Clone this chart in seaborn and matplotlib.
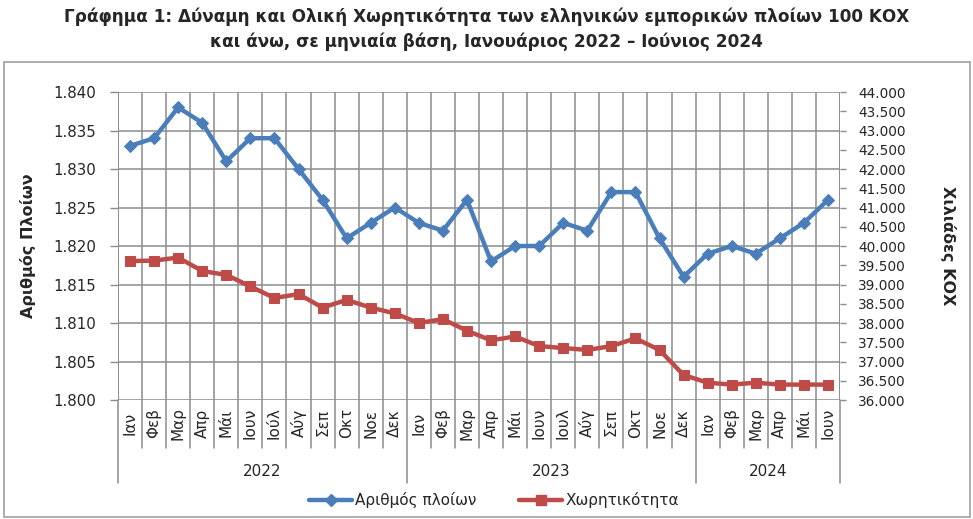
import numpy as np
import pandas as pd
import seaborn as sns
import matplotlib
matplotlib.use("Agg")
import matplotlib.pyplot as plt
import matplotlib.transforms as mtransforms
from matplotlib.lines import Line2D
from matplotlib.patches import Rectangle

months_2022 = ['Ιαν', 'Φεβ', 'Μαρ', 'Απρ', 'Μάι', 'Ιουν', 'Ιούλ', 'Αύγ', 'Σεπ', 'Οκτ', 'Νοε', 'Δεκ']
months_2023 = ['Ιαν', 'Φεβ', 'Μαρ', 'Απρ', 'Μάι', 'Ιουν', 'Ιουλ', 'Αύγ', 'Σεπ', 'Οκτ', 'Νοε', 'Δεκ']
months_2024 = ['Ιαν', 'Φεβ', 'Μαρ', 'Απρ', 'Μάι', 'Ιουν']
years = ['2022', '2023', '2024']

ships = [1.833, 1.834, 1.838, 1.836, 1.831, 1.834, 1.834, 1.830, 1.826, 1.821, 1.823, 1.825,
         1.823, 1.822, 1.826, 1.818, 1.820, 1.820, 1.823, 1.822, 1.827, 1.827, 1.821, 1.816,
         1.819, 1.820, 1.819, 1.821, 1.823, 1.826]
capacity = [39610, 39620, 39700, 39350, 39250, 38950, 38650, 38750, 38400, 38600, 38400, 38250,
            38000, 38100, 37800, 37550, 37650, 37400, 37350, 37300, 37400, 37600, 37300, 36650,
            36450, 36400, 36450, 36400, 36400, 36400]

left_ticks = [1.800, 1.805, 1.810, 1.815, 1.820, 1.825, 1.830, 1.835, 1.840]
right_ticks = list(range(36000, 44001, 500))

series_names = ['Αριθμός πλοίων', 'Χωρητικότητα']
title_lines = ['Γράφημα 1: Δύναμη και Ολική Χωρητικότητα των ελληνικών εμπορικών πλοίων 100 ΚΟΧ',
               'και άνω, σε μηνιαία βάση, Ιανουάριος 2022 – Ιούνιος 2024']

months = months_2022 + months_2023 + months_2024
n = len(months)
df = pd.DataFrame({'idx': np.arange(n), 'ships': ships, 'capacity': capacity})

sns.set_theme(style='white')
plt.rcParams['font.family'] = ['DejaVu Sans']

BLUE = '#4A7EBB'
RED = '#BE4B48'
GRID = '#8C8C8C'

W, H = 973, 519
fig = plt.figure(figsize=(W / 100, H / 100), dpi=100)
L, R, T, B = 118, 840, 92, 400
ax = fig.add_axes([L / W, 1 - B / H, (R - L) / W, (B - T) / H])
ax2 = ax.twinx()

# outer frame
fig.patches.append(Rectangle((4 / W, 2 / H), 966 / W, (517 - 62) / H, transform=fig.transFigure,
                             fill=False, edgecolor='#A0A0A0', linewidth=1.2))

fig.text(0.5, 1 - 17 / H, title_lines[0], ha='center', va='center', fontsize=12.2, fontweight='bold')
fig.text(0.5, 1 - 42 / H, title_lines[1], ha='center', va='center', fontsize=12.2, fontweight='bold')

sns.lineplot(data=df, x='idx', y='ships', ax=ax, color=BLUE, linewidth=3.2, marker='D',
             markersize=6, markeredgecolor=BLUE, zorder=5)
sns.lineplot(data=df, x='idx', y='capacity', ax=ax2, color=RED, linewidth=3.2, marker='s',
             markersize=7, markeredgecolor=RED, zorder=5)

ax.set_xlim(-0.5, n - 0.5)
ax.set_ylim(1.800, 1.840)
ax2.set_ylim(36000, 44000)
ax.set_yticks(left_ticks)
ax.set_yticklabels([f'{v:.3f}' for v in left_ticks], fontsize=10.8)
ax2.set_yticks(right_ticks)
ax2.set_yticklabels([f'{v/1000:.3f}' for v in right_ticks], fontsize=9.8)
ax.set_xticks([])
ax2.set_xticks([])
ax.set_xlabel('')
ax.set_ylabel('Αριθμός Πλοίων', fontsize=11.5, fontweight='bold')
ax2.set_ylabel('Χιλιάδες ΚΟΧ', fontsize=11.5, fontweight='bold', rotation=-90)
ax.yaxis.set_label_coords(-(L - 28) / (R - L), 0.5)
ax2.yaxis.set_label_coords(1 + (948 - R) / (R - L), 0.5)
ax.yaxis.label.set_va('center')
ax2.yaxis.label.set_va('center')

for a in (ax, ax2):
    for s in a.spines.values():
        s.set_visible(False)
ax.tick_params(axis='y', which='major', direction='out', length=6, color=GRID, width=1, pad=10, left=True)
ax2.tick_params(axis='y', which='major', direction='out', length=4, color=GRID, width=1, pad=9, right=True)

# grid
for v in left_ticks:
    ax.axhline(v, color=GRID, linewidth=1.1, zorder=1)
trans = mtransforms.blended_transform_factory(ax.transData, ax.transAxes)
year_bounds = [0, 12, 24, 30]
for i in range(n + 1):
    xb = i - 0.5
    ax.plot([xb, xb], [0, 1], color=GRID, linewidth=1.1, transform=trans, zorder=1)
    ylow = -83 / (B - T) if i in year_bounds else -48 / (B - T)
    ax.plot([xb, xb], [0, ylow], color=GRID, linewidth=1.1, transform=trans, clip_on=False)
ax.plot([-0.5, -0.5], [0, 1], color=GRID, linewidth=1.3, transform=trans, zorder=2)
ax.plot([n - 0.5, n - 0.5], [0, 1], color=GRID, linewidth=1.3, transform=trans, zorder=2)

for i, m in enumerate(months):
    ax.text(i, -23 / (B - T), m, rotation=90, ha='center', va='center', fontsize=11,
            transform=trans, clip_on=False)
for k, yname in enumerate(years):
    cx = (year_bounds[k] + year_bounds[k + 1] - 1) / 2
    ax.text(cx, -71 / (B - T), yname, ha='center', va='center', fontsize=11,
            transform=trans, clip_on=False)

handles = [Line2D([], [], color=BLUE, linewidth=3.2, marker='D', markersize=6),
           Line2D([], [], color=RED, linewidth=3.2, marker='s', markersize=7)]
fig.legend(handles, series_names, loc='center', bbox_to_anchor=(494 / W, 1 - 500 / H), ncol=2,
           frameon=False, fontsize=11, handlelength=2.8, columnspacing=2.8, handletextpad=0.2)

fig.savefig('out.png', dpi=100)
